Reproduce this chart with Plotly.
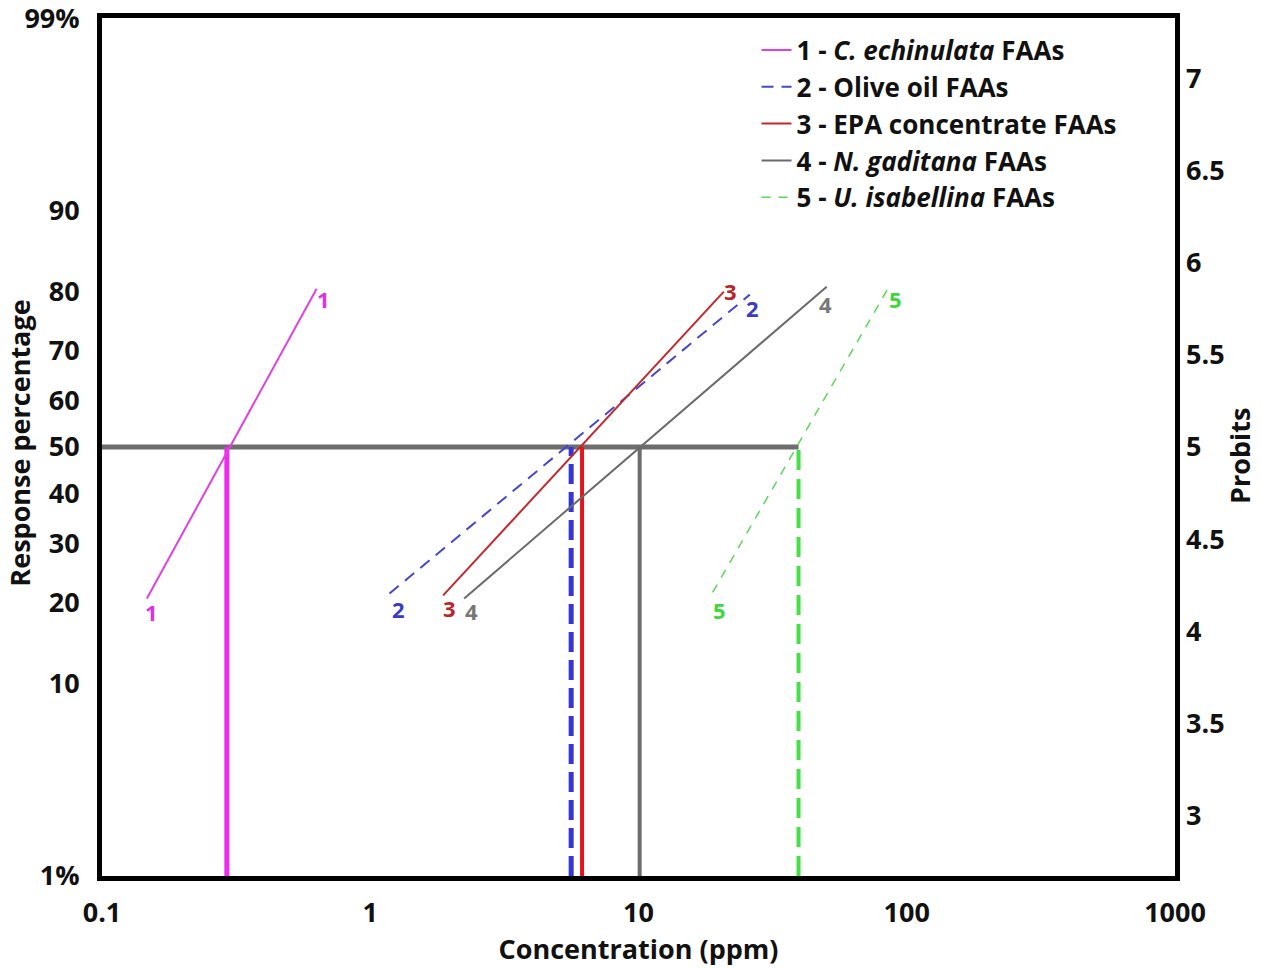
import math
import plotly.graph_objects as go
from statistics import NormalDist

# ---------------- data ----------------
series_ids = ["1", "2", "3", "4", "5"]
series_names = [
    "1 - <i>C. echinulata</i> FAAs",
    "2 - Olive oil FAAs",
    "3 - EPA concentrate FAAs",
    "4 - <i>N. gaditana</i> FAAs",
    "5 - <i>U. isabellina</i> FAAs",
]
# regression line end points (concentration ppm, probit)
line_x_start = [0.147, 1.18, 1.87, 2.24, 18.9]
line_x_end = [0.631, 26.0, 20.8, 50.3, 85.5]
line_p_start = [4.178, 4.205, 4.195, 4.178, 4.211]
line_p_end = [5.859, 5.827, 5.843, 5.870, 5.865]
# LC50 values (ppm) -> vertical drop lines at probit 5
lc50 = [0.292, 5.61, 6.16, 10.1, 39.5]

pct_ticks = [1, 10, 20, 30, 40, 50, 60, 70, 80, 90, 99]
pct_labels = ["1%", "10", "20", "30", "40", "50", "60", "70", "80", "90", "99%"]
probit_ticks = [3, 3.5, 4, 4.5, 5, 5.5, 6, 6.5, 7]
probit_labels = ["3", "3.5", "4", "4.5", "5", "5.5", "6", "6.5", "7"]
x_ticks = [0.1, 1, 10, 100, 1000]
x_labels = ["0.1", "1", "10", "100", "1000"]

# ---------------- styles ----------------
fit_colors = ["#e040e0", "#4646cc", "#c4282d", "#6a6a6a", "#5ad85a"]
fit_widths = [2, 2, 2, 2, 1.5]
fit_dash = ["solid", "12px,8px", "solid", "solid", "9px,8px"]
vert_colors = ["#ee2aee", "#3535d8", "#e5131b", "#6d6d6d", "#45e045"]
vert_widths = [5, 5, 4, 4, 4]
vert_dash = ["solid", "20px,8px", "solid", "solid", "20px,9px"]
label_colors = ["#e030e0", "#3a3ac8", "#b8262c", "#777777", "#3ed83e"]
start_offsets = [(5, -14), (9, -16), (6, -13), (7, -13), (7, -18)]
end_offsets = [(7, -10), (3, -13), (7, 1), (-1, -17), (7, -11)]

FONT = "Open Sans"

def probit(p):
    return 5 + NormalDist().inv_cdf(p / 100.0)

p_lo = probit(1) - 0.002
p_hi = probit(99) + 0.002

fig = go.Figure()

# horizontal 50% line
fig.add_trace(go.Scatter(
    x=[x_ticks[0], max(lc50)], y=[5, 5], mode="lines",
    line=dict(color="#6d6d6d", width=5), showlegend=False, hoverinfo="skip"))

# vertical LC50 lines
for i in range(len(lc50)):
    fig.add_trace(go.Scatter(
        x=[lc50[i], lc50[i]], y=[p_lo, 5], mode="lines",
        line=dict(color=vert_colors[i], width=vert_widths[i], dash=vert_dash[i]),
        showlegend=False, hoverinfo="skip"))

# regression lines
for i in range(len(series_ids)):
    fig.add_trace(go.Scatter(
        x=[line_x_start[i], line_x_end[i]], y=[line_p_start[i], line_p_end[i]],
        mode="lines", name=series_names[i],
        line=dict(color=fit_colors[i], width=fit_widths[i], dash=fit_dash[i])))
    for (xx, pp, off) in [(line_x_start[i], line_p_start[i], start_offsets[i]),
                          (line_x_end[i], line_p_end[i], end_offsets[i])]:
        fig.add_annotation(
            x=math.log10(xx), y=pp, xref="x", yref="y", text=series_ids[i],
            showarrow=False, xshift=off[0], yshift=off[1],
            font=dict(family=FONT, size=22, color=label_colors[i], weight="bold"))

# dummy trace on right axis to show it
fig.add_trace(go.Scatter(x=[None], y=[None], yaxis="y2", showlegend=False))

tick_font = dict(family=FONT, size=27, color="#111111", weight="bold")

fig.update_layout(
    width=1261, height=968,
    margin=dict(l=102, r=86, t=18, b=92, autoexpand=False),
    paper_bgcolor="white", plot_bgcolor="white",
    font=dict(family=FONT, color="#111111"),
    xaxis=dict(
        type="log", range=[-1, 3], tickvals=x_ticks, ticktext=x_labels,
        showgrid=False, zeroline=False, showline=True, linecolor="black",
        linewidth=5, mirror=True, ticks="", tickfont=tick_font, automargin=False,
        ticklabelstandoff=9, ticklabeloverflow="allow",
        title=dict(text="Concentration (ppm)", standoff=0,
                   font=dict(family=FONT, size=27, color="#111111", weight="bold"))),
    yaxis=dict(
        range=[p_lo, p_hi], tickvals=[probit(p) for p in pct_ticks], ticktext=pct_labels,
        showgrid=False, zeroline=False, showline=True, linecolor="black",
        linewidth=5, mirror=True, ticks="", tickfont=tick_font, automargin=False,
        ticklabelstandoff=12, ticklabeloverflow="allow"),
    yaxis2=dict(
        range=[p_lo, p_hi], tickvals=probit_ticks, ticktext=probit_labels,
        overlaying="y", side="right", showgrid=False, zeroline=False,
        showline=False, ticks="", tickfont=tick_font, ticklabelstandoff=10,
        ticklabeloverflow="allow", automargin=False),
    legend=dict(
        x=0.61, y=0.99, xanchor="left", yanchor="top",
        bgcolor="rgba(0,0,0,0)", borderwidth=0,
        font=dict(family=FONT, size=26, color="#111111", weight="bold"),
        itemwidth=30, tracegroupgap=0),
    annotations=list(fig.layout.annotations) + [
        dict(text="Response percentage", textangle=-90, xref="paper", yref="paper",
             x=-0.0765, y=0.505, xanchor="center", yanchor="middle", showarrow=False,
             font=dict(family=FONT, size=27, color="#111111", weight="bold")),
        dict(text="Probits", textangle=-90, xref="paper", yref="paper",
             x=1.06, y=0.49, xanchor="center", yanchor="middle", showarrow=False,
             font=dict(family=FONT, size=27, color="#111111", weight="bold")),
    ],
)

fig.write_html("out.html")
